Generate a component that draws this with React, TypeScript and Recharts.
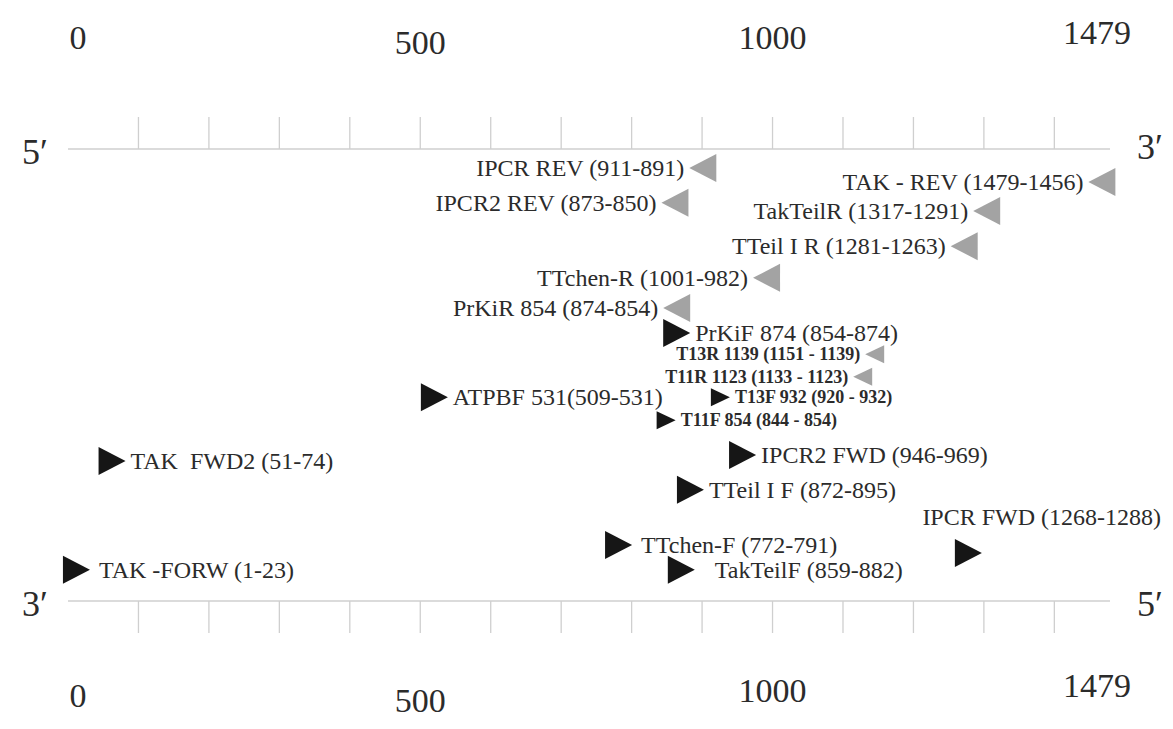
import { ScatterChart, Scatter, XAxis, YAxis } from "recharts";

// primer labels as printed on the map
const primerLabels = [
  "IPCR REV (911-891)",
  "TAK - REV (1479-1456)",
  "IPCR2 REV (873-850)",
  "TakTeilR (1317-1291)",
  "TTeil I R (1281-1263)",
  "TTchen-R (1001-982)",
  "PrKiR 854 (874-854)",
  "T13R 1139 (1151 - 1139)",
  "T11R 1123 (1133 - 1123)",
  "PrKiF 874 (854-874)",
  "ATPBF 531(509-531)",
  "T13F 932 (920 - 932)",
  "T11F 854 (844 - 854)",
  "TAK  FWD2 (51-74)",
  "IPCR2 FWD (946-969)",
  "TTeil I F (872-895)",
  "IPCR FWD (1268-1288)",
  "TTchen-F (772-791)",
  "TakTeilF (859-882)",
  "TAK -FORW (1-23)",
];
// 5' and 3' ends of each primer (bp)
const primerFrom = [911, 1479, 873, 1317, 1281, 1001, 874, 1151, 1133, 854, 509, 920, 844, 51, 946, 872, 1268, 772, 859, 1];
const primerTo = [891, 1456, 850, 1291, 1263, 982, 854, 1139, 1123, 874, 531, 932, 854, 74, 969, 895, 1288, 791, 882, 23];
// track between the two strands (0 = top strand, 100 = bottom strand)
const primerLane = [4.2, 7.3, 11.9, 13.7, 21.5, 28.5, 35.2, 45.4, 50.4, 40.7, 54.9, 54.9, 60.0, 69.0, 67.7, 75.4, 89.4, 87.6, 93.1, 93.1];

const axisTicks = [0, 100, 200, 300, 400, 500, 600, 700, 800, 900, 1000, 1100, 1200, 1300, 1400, 1479];
const scaleLabels = [0, 500, 1000, 1479];
const SEQ_LENGTH = 1479;

const rows = primerLabels.map((label, i) => ({
  label,
  from: primerFrom[i],
  to: primerTo[i],
  mid: (primerFrom[i] + primerTo[i]) / 2,
  lane: primerLane[i],
  short: Math.abs(primerFrom[i] - primerTo[i]) < 15,
}));
const forward = rows.filter((r) => r.to > r.from);
const reverse = rows.filter((r) => r.to < r.from);

const FONT = "'Liberation Serif', 'Times New Roman', serif";
const TEXT = "#2b2b2b";
const LINE = "#cfcfcf";

// a few labels sit away from the default spot
const labelGap: Record<string, number> = { "TakTeilF (859-882)": 20, "TTchen-F (772-791)": 9, "TAK -FORW (1-23)": 9 };
const labelAbove = new Set(["IPCR FWD (1268-1288)"]);
// the scale numbers are not quite level in the original
const numberNudge: Record<string, Record<number, number>> = {
  top: { 0: -5, 500: 0, 1000: -5, 1479: -10 },
  bottom: { 0: -5, 500: 0, 1000: -10, 1479: -15 },
};

function PrimerMark(props: any, dir: 1 | -1) {
  const { cx, cy, payload } = props;
  const w = payload.short ? 19 : 27;
  const h = payload.short ? 18 : 28;
  const x0 = cx - (dir * w) / 2;
  const x1 = cx + (dir * w) / 2;
  const pts = `${x0},${cy - h / 2} ${x1},${cy} ${x0},${cy + h / 2}`;
  const gap = labelGap[payload.label] ?? 5;
  let tx = x1 + dir * gap;
  let ty = cy;
  if (labelAbove.has(payload.label)) {
    tx = cx - 46;
    ty = cy - 36;
  }
  return (
    <g>
      <polygon points={pts} fill={dir === 1 ? "#161616" : "#a3a3a3"} />
      <text
        x={tx}
        y={ty}
        textAnchor={dir === 1 || labelAbove.has(payload.label) ? "start" : "end"}
        dominantBaseline="central"
        fontFamily={FONT}
        fontSize={payload.short ? 18 : 24}
        fontWeight={payload.short ? 700 : 400}
        fill={TEXT}
        style={{ whiteSpace: "pre" }}
      >
        {payload.label}
      </text>
    </g>
  );
}

function StrandTick(props: any, side: "top" | "bottom") {
  const { x, y, payload } = props;
  const v = payload.value;
  const dir = side === "top" ? -1 : 1;
  const nudge = v === 0 ? 10 : v === SEQ_LENGTH ? -13 : 0;
  return (
    <g>
      {v !== 0 && v !== SEQ_LENGTH && (
        <line x1={x} x2={x} y1={y} y2={y + dir * 32} stroke={LINE} strokeWidth={1.3} />
      )}
      {scaleLabels.includes(v) && (
        <text
          x={x + nudge}
          y={y + (side === "top" ? -107 : 99) + (numberNudge[side][v] ?? 0)}
          textAnchor="middle"
          dominantBaseline="central"
          fontFamily={FONT}
          fontSize={34}
          fill={TEXT}
        >
          {v}
        </text>
      )}
      {v === 0 && (
        <text x={x - 33} y={y + 3} textAnchor="middle" dominantBaseline="central" fontFamily={FONT} fontSize={36} fill={TEXT}>
          {side === "top" ? "5′" : "3′"}
        </text>
      )}
      {v === SEQ_LENGTH && (
        <text x={x + 40} y={y + (side === "top" ? -2 : 3)} textAnchor="middle" dominantBaseline="central" fontFamily={FONT} fontSize={36} fill={TEXT}>
          {side === "top" ? "3′" : "5′"}
        </text>
      )}
    </g>
  );
}

export default function App() {
  return (
    <div style={{ position: "absolute", left: 0, top: 0, background: "#fff" }}>
      <ScatterChart width={1173} height={729} margin={{ top: 119, right: 63, bottom: 98, left: 68 }}>
        <XAxis
          xAxisId="top"
          orientation="top"
          type="number"
          dataKey="mid"
          domain={[0, SEQ_LENGTH]}
          ticks={axisTicks}
          interval={0}
          height={30}
          tickSize={0}
          tickMargin={0}
          tickLine={false}
          axisLine={{ stroke: LINE, strokeWidth: 1.5 }}
          tick={(p: any) => StrandTick(p, "top")}
        />
        <XAxis
          xAxisId="bottom"
          orientation="bottom"
          type="number"
          dataKey="mid"
          domain={[0, SEQ_LENGTH]}
          allowDataOverflow
          ticks={axisTicks}
          interval={0}
          height={30}
          tickSize={0}
          tickMargin={0}
          tickLine={false}
          axisLine={{ stroke: LINE, strokeWidth: 1.5 }}
          tick={(p: any) => StrandTick(p, "bottom")}
        />
        <YAxis type="number" dataKey="lane" domain={[0, 100]} reversed hide />
        <Scatter
          name="reverse"
          xAxisId="top"
          data={reverse}
          isAnimationActive={false}
          shape={(p: any) => PrimerMark(p, -1)}
        />
        <Scatter
          name="forward"
          xAxisId="top"
          data={forward}
          isAnimationActive={false}
          shape={(p: any) => PrimerMark(p, 1)}
        />
      </ScatterChart>
    </div>
  );
}
